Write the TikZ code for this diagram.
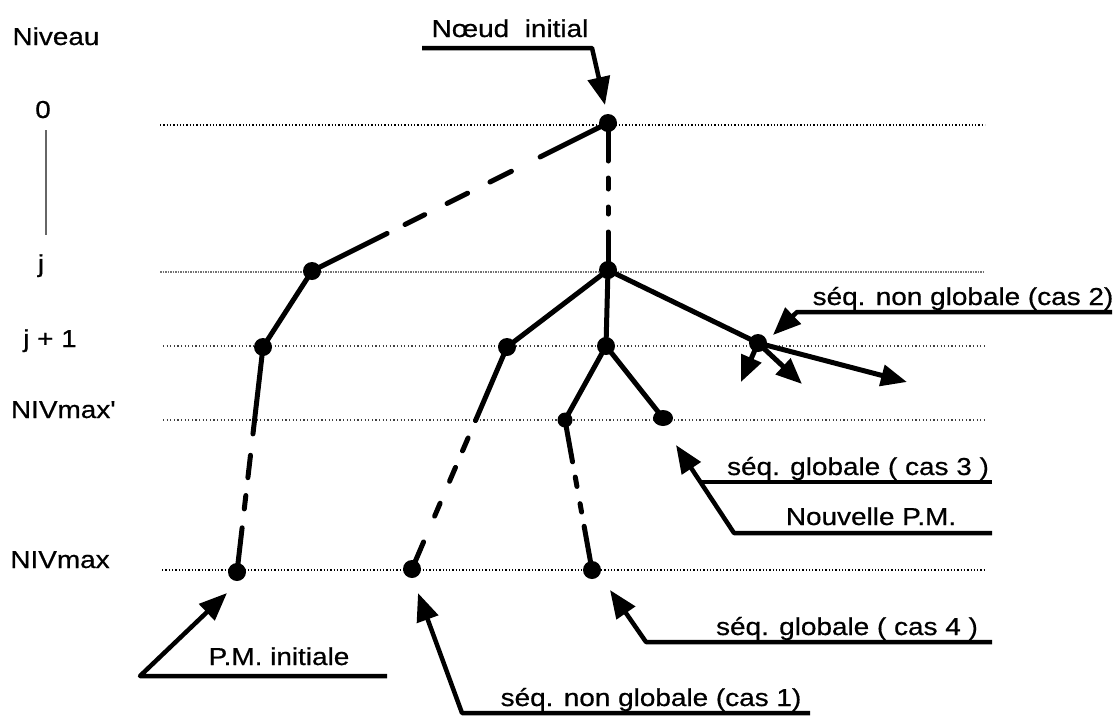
\documentclass[tikz,border=0pt]{standalone}
\usepackage{fontspec}
\setmainfont{Liberation Sans}[FakeStretch=1.14,FakeBold=0.6]
\usetikzlibrary{arrows.meta,shapes.geometric}
\begin{document}
\begin{tikzpicture}[x=1pt,y=-1pt,
  dot/.style={circle,fill=black,inner sep=0pt,minimum size=18pt},
  edge/.style={line width=5pt,line cap=round},
  lvl/.style={line width=1.3pt,dash pattern=on 1.3pt off 2pt},
  lvlg/.style={line width=1.1pt,black!75,dash pattern=on 1.2pt off 2.4pt},
  lvlj/.style={line width=2.8pt,black!55,dash pattern=on 1.5pt off 1pt},
  lbl/.style={font=\fontsize{24.5}{28}\selectfont,anchor=base,inner sep=0pt},
  pointer/.style={line width=4.5pt,line join=round,-{Triangle[length=28pt,width=22pt]}},
  uline/.style={line width=4.5pt},
  tip/.style={-{Triangle[length=26pt,width=21pt]}},
  ]
\useasboundingbox (0,0) rectangle (1120,716);

% level lines
\coordinate (L0a) at (160,125); \coordinate (L0b) at (985,125);
\coordinate (Lja) at (160,272); \coordinate (Ljb) at (985,272);
\coordinate (L1a) at (163,346); \coordinate (L1b) at (985,346);
\coordinate (Lpa) at (163,420); \coordinate (Lpb) at (985,420);
\coordinate (Lma) at (162,570); \coordinate (Lmb) at (985,570);
\draw[lvl] (L0a) -- (L0b);
\draw[lvlj] (Lja) -- (Ljb);
\draw[lvlg] (L1a) -- (L1b);
\draw[lvlg] (Lpa) -- (Lpb);
\draw[lvl] (Lma) -- (Lmb);

% level labels
\node[lbl] (niv) at (56,45) {Niveau};
\node[lbl] (l0) at (43,118) {0};
\node[lbl] (lj) at (41,272) {j};
\node[lbl] (lj1) at (50,347) {j + 1};
\node[lbl] (lnp) at (63,418) {NIVmax\textquotesingle};
\node[lbl] (lnm) at (60,568) {NIVmax};
\coordinate (va) at (46,130); \coordinate (vb) at (46,235);
\draw[line width=2.2pt,black!60] (va) -- (vb);

% nodes
\node[dot] (R) at (608,123) {};
\node[dot] (jM) at (608,270) {};
\node[dot] (jL) at (312,271) {};
\node[dot] (j1a) at (263,347) {};
\node[dot] (j1b) at (507,347) {};
\node[dot] (j1c) at (606,346) {};
\node[dot] (j1d) at (758,343) {};
\node[dot,minimum size=15pt] (m1) at (565,420) {};
\node[ellipse,fill=black,inner sep=0pt,minimum width=20pt,minimum height=16pt] (m2) at (663,418) {};
\node[dot] (n1) at (237,572) {};
\node[dot] (n2) at (412,569) {};
\node[dot] (n3) at (592,570) {};

% edges
\draw[edge,dash pattern=on 84pt off 20pt on 22pt off 25pt on 23pt off 25pt on 24pt off 32pt on 300pt] (jL.center) -- (R.center);
\draw[edge,dash pattern=on 38pt off 17pt on 11pt off 18pt on 7pt off 18pt on 300pt] (R.center) -- (jM.center);
\draw[edge] (jL.center) -- (j1a.center);
\draw[edge,dash pattern=on 87.5pt off 21.5pt on 22.5pt off 18pt on 13.5pt off 19pt on 300pt] (j1a.center) -- (n1.center);
\draw[edge] (jM.center) -- (j1b.center);
\draw[edge] (jM.center) -- (j1c.center);
\draw[edge] (jM.center) -- (j1d.center);
\draw[edge,dash pattern=on 80pt off 19pt on 14pt off 18pt on 15pt off 24pt on 14pt off 28pt on 300pt] (j1b.center) -- (n2.center);
\draw[edge] (j1c.center) -- (m1.center);
\draw[edge] (j1c.center) -- (m2.center);
\draw[edge,dash pattern=on 42.5pt off 15.5pt on 9.5pt off 17.5pt on 8.5pt off 14.5pt on 300pt] (m1.center) -- (n3.center);

% arrows out of j1d
\coordinate (a1) at (741,382);
\coordinate (a2) at (802,384);
\coordinate (a3) at (907,382);
\draw[edge,tip] (j1d.center) -- (a1);
\draw[edge,tip] (j1d.center) -- (a2);
\draw[edge,tip] (j1d.center) -- (a3);

% labels with pointers
\node[lbl] (tNoeud) at (510,37) {Nœud\ \ initial};
\coordinate (pN1) at (422,48); \coordinate (pN2) at (592,48); \coordinate (pN3) at (605,105);
\draw[pointer] (pN1) -- (pN2) -- (pN3);

\node[lbl] (tc2) at (963,305) {séq. non globale (cas 2)};
\coordinate (p21) at (1112,312); \coordinate (p22) at (797,312); \coordinate (p23) at (773,335);
\draw[pointer] (p21) -- (p22) -- (p23);

\node[lbl] (tc3) at (858,475) {séq. globale ( cas 3 )};
\coordinate (p31) at (992,482); \coordinate (p32) at (700,482);
\draw[uline] (p31) -- (p32);

\node[lbl] (tnv) at (871,525) {Nouvelle P.M.};
\coordinate (pn1) at (992,533); \coordinate (pn2) at (734,533); \coordinate (pn3) at (676,445);
\draw[pointer] (pn1) -- (pn2) -- (pn3);

\node[lbl] (tc4) at (847,635) {séq. globale ( cas 4 )};
\coordinate (p41) at (992,642); \coordinate (p42) at (646,642); \coordinate (p43) at (610,590);
\draw[pointer] (p41) -- (p42) -- (p43);

\node[lbl] (tc1) at (651,706) {séq. non globale (cas 1)};
\coordinate (p11) at (810,713); \coordinate (p12) at (462,713); \coordinate (p13) at (418,593);
\draw[pointer] (p11) -- (p12) -- (p13);

\node[lbl] (tpm) at (279,665) {P.M. initiale};
\coordinate (pp1) at (387,676); \coordinate (pp2) at (140,676); \coordinate (pp3) at (227,593);
\draw[pointer] (pp1) -- (pp2) -- (pp3);
\end{tikzpicture}
\end{document}
